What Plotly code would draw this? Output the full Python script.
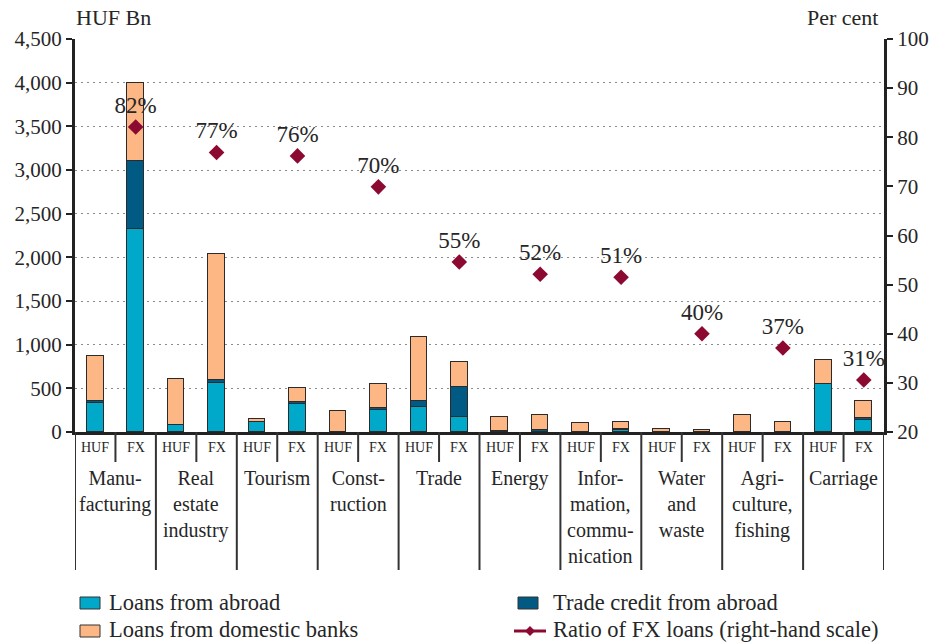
import plotly.graph_objects as go

# ---------------- data ----------------
categories = ["Manu-<br>facturing", "Real<br>estate<br>industry", "Tourism", "Const-<br>ruction",
              "Trade", "Energy", "Infor-<br>mation,<br>commu-<br>nication", "Water<br>and<br>waste",
              "Agri-<br>culture,<br>fishing", "Carriage"]
currencies = ["HUF", "FX"]

abroad_huf = [330, 80, 115, 0, 285, 5, 0, 5, 0, 545]
abroad_fx = [2330, 565, 315, 250, 170, 5, 25, 0, 0, 140]
trade_huf = [25, 5, 0, 0, 75, 5, 0, 0, 0, 0]
trade_fx = [770, 25, 30, 25, 350, 15, 5, 0, 0, 20]
domestic_huf = [510, 520, 35, 235, 725, 165, 105, 30, 195, 275]
domestic_fx = [900, 1450, 160, 280, 280, 175, 85, 20, 110, 200]
ratio_fx = [82.1, 76.9, 76.2, 69.9, 54.6, 52.1, 51.5, 40.0, 37.1, 30.6]
ratio_labels = ["82%", "77%", "76%", "70%", "55%", "52%", "51%", "40%", "37%", "31%"]

left_ticks = list(range(0, 4501, 500))
right_ticks = list(range(20, 101, 10))

# ---------------- styles ----------------
C_ABROAD = "#00A9CA"
C_TRADE = "#005A84"
C_DOM = "#FDB784"
C_RATIO = "#8C0A32"
FONT = "Liberation Serif"
TXT = "#262626"
EDGE = "#2b2b2b"

# plot area in pixels
L, R, T, B = 75, 884, 39, 432
W, H = 929, 642


def px(x):
    return (x - L) / (R - L)


def py(y):
    return (B - y) / (B - T)


n = len(categories)
xs, ab, tr, dm = [], [], [], []
for i in range(n):
    for j, (a, t, d) in enumerate([(abroad_huf[i], trade_huf[i], domestic_huf[i]),
                                   (abroad_fx[i], trade_fx[i], domestic_fx[i])]):
        xs.append(2 * i + j)
        ab.append(a if a else None)
        tr.append(t if t else None)
        dm.append(d if d else None)

fig = go.Figure()
for name, vals, col in [("Loans from abroad", ab, C_ABROAD),
                        ("Trade credit from abroad", tr, C_TRADE),
                        ("Loans from domestic banks", dm, C_DOM)]:
    fig.add_trace(go.Bar(x=xs, y=vals, name=name, width=0.41,
                         marker=dict(color=col, line=dict(color=EDGE, width=1.5)),
                         showlegend=False))

fx_x = [2 * i + 1 for i in range(n)]
fig.add_trace(go.Scatter(x=fx_x, y=ratio_fx, yaxis="y2", mode="markers+text",
                         text=ratio_labels, textposition="top center",
                         textfont=dict(family=FONT, size=23, color=TXT),
                         marker=dict(symbol="diamond", size=12, color=C_RATIO),
                         name="Ratio of FX loans (right-hand scale)", showlegend=False,
                         cliponaxis=False))

shapes = []
# separators below x axis
for k in range(2 * n + 1):
    xv = k - 0.5
    long_line = (k % 2 == 0)
    shapes.append(dict(type="line", xref="x", yref="paper", x0=xv, x1=xv,
                       y0=0, y1=py(570) if long_line else py(462),
                       line=dict(color="#333", width=2)))

# legend
def box(x0, y0, col):
    shapes.append(dict(type="rect", xref="paper", yref="paper",
                       x0=px(x0), x1=px(x0 + 20), y0=py(y0), y1=py(y0 + 12),
                       fillcolor=col, line=dict(color="#333", width=1)))

box(80, 597, C_ABROAD)
box(80, 625, C_DOM)
box(518, 597, C_TRADE)
shapes.append(dict(type="line", xref="paper", yref="paper", x0=px(514), x1=px(546),
                   y0=py(631), y1=py(631), line=dict(color=C_RATIO, width=3)))
cx, cy, d = 530, 631, 5
shapes.append(dict(type="path", xref="paper", yref="paper",
                   path=f"M {px(cx - d)} {py(cy)} L {px(cx)} {py(cy - d)} L {px(cx + d)} {py(cy)} L {px(cx)} {py(cy + d)} Z",
                   fillcolor=C_RATIO, line=dict(color=C_RATIO, width=0)))

annotations = []
for i, cat in enumerate(categories):
    for j, cur in enumerate(currencies):
        annotations.append(dict(x=2 * i + j, y=py(447), xref="x", yref="paper", text=cur,
                                showarrow=False, yanchor="middle",
                                font=dict(family=FONT, size=14, color=TXT)))
    annotations.append(dict(x=2 * i + 0.5, y=py(465), xref="x", yref="paper", text=cat,
                            showarrow=False, yanchor="top", align="center",
                            font=dict(family=FONT, size=20, color=TXT)))

for text, x, y in [("Loans from abroad", 107, 602), ("Loans from domestic banks", 107, 629),
                   ("Trade credit from abroad", 551, 602),
                   ("Ratio of FX loans (right-hand scale)", 551, 629)]:
    annotations.append(dict(x=px(x), y=py(y), xref="paper", yref="paper", text=text,
                            showarrow=False, xanchor="left", yanchor="middle",
                            font=dict(family=FONT, size=22.5, color=TXT)))

annotations.append(dict(x=px(74), y=py(17), xref="paper", yref="paper", text="HUF Bn",
                        showarrow=False, xanchor="left", yanchor="middle",
                        font=dict(family=FONT, size=22, color=TXT)))
annotations.append(dict(x=px(880), y=py(17), xref="paper", yref="paper", text="Per cent",
                        showarrow=False, xanchor="right", yanchor="middle",
                        font=dict(family=FONT, size=22, color=TXT)))

fig.update_layout(
    width=W, height=H,
    margin=dict(l=L, r=W - R, t=T, b=H - B, autoexpand=False),
    paper_bgcolor="white", plot_bgcolor="white",
    barmode="stack", bargap=0,
    font=dict(family=FONT, color=TXT),
    xaxis=dict(range=[-0.5, 2 * n - 0.5], showticklabels=False, ticks="", automargin=False,
               showgrid=False, zeroline=False, showline=True, linecolor="#222", linewidth=3),
    yaxis=dict(range=[0, 4500], tickvals=left_ticks, tickformat=",", automargin=False,
               ticks="outside", ticklen=6, tickwidth=2, tickcolor="#222",
               showline=True, linecolor="#222", linewidth=3,
               showgrid=True, gridcolor="#8c8c8c", griddash="1.5px,4.5px", gridwidth=1,
               zeroline=False, tickfont=dict(family=FONT, size=21, color=TXT)),
    yaxis2=dict(range=[20, 100], tickvals=right_ticks, overlaying="y", side="right",
                automargin=False,
                ticks="outside", ticklen=6, tickwidth=2, tickcolor="#222",
                showline=True, linecolor="#222", linewidth=3, showgrid=False, zeroline=False,
                tickfont=dict(family=FONT, size=21, color=TXT)),
    shapes=shapes, annotations=annotations,
)

fig.write_html("out.html", config={"displayModeBar": False},
               post_script="document.body.style.margin='0';")
